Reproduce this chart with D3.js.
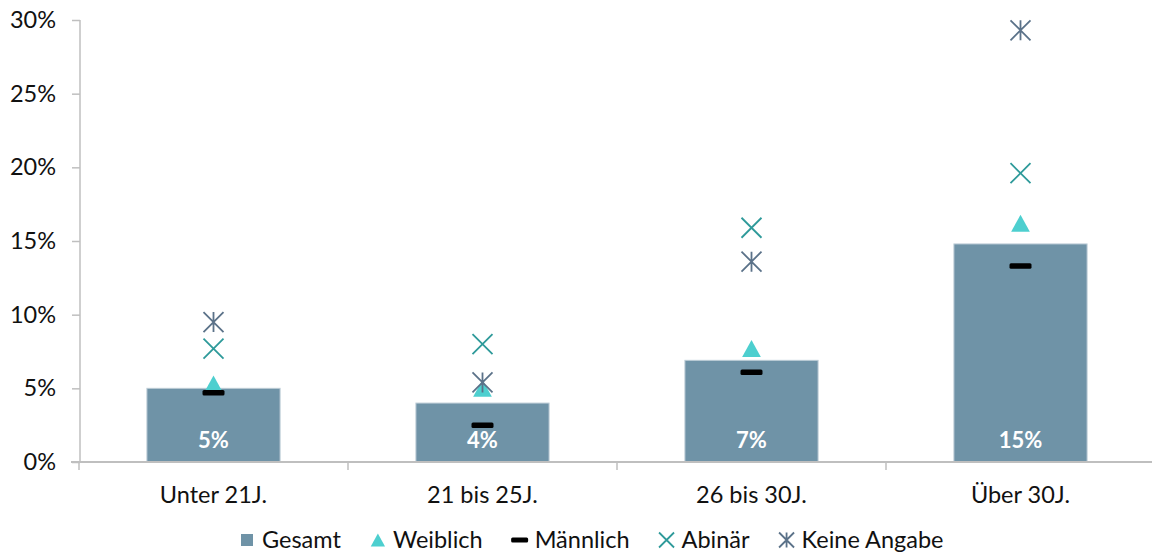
<!DOCTYPE html>
<html><head><meta charset="utf-8">
<script src="https://cdn.jsdelivr.net/npm/d3@7"></script>
<style>
html,body{margin:0;padding:0;background:#fff;}
svg{display:block;font-family:Lato, "Open Sans", sans-serif;}
</style></head>
<body><svg id="c" width="1152" height="554"></svg>
<script>
const categories = ["Unter 21J.", "21 bis 25J.", "26 bis 30J.", "Über 30J."];
const gesamt = [0.050, 0.040, 0.069, 0.148];
const weiblich = [0.053, 0.050, 0.077, 0.162];
const maennlich = [0.047, 0.025, 0.061, 0.133];
const abinaer = [0.077, 0.080, 0.159, 0.196];
const keineAngabe = [0.095, 0.054, 0.136, 0.293];
const yTicks = [0, 0.05, 0.10, 0.15, 0.20, 0.25, 0.30];
const seriesNames = ["Gesamt", "Weiblich", "Männlich", "Abinär", "Keine Angabe"];

const colors = {bar:"#6F93A7", tri:"#4DCFCF", dash:"#000000", x:"#2E9A9A", star:"#5B7289", axis:"#BFBFBF", text:"#111111"};

const svg = d3.select("#c");
const x = d3.scaleBand().domain(categories).range([79, 1155]).paddingInner(0.505).paddingOuter(0.2525);
const xc = d => x(d) + x.bandwidth()/2;
const y = d3.scaleLinear().domain([0, 0.30]).range([462, 20]);

// Y axis
const yAxis = svg.append("g").attr("transform","translate(80,0)")
  .call(d3.axisLeft(y).tickValues(yTicks).tickFormat(d3.format(".0%")).tickSize(8).tickPadding(16));
yAxis.select(".domain").attr("stroke", colors.axis).attr("stroke-width",1.5).attr("d","M0,20V462");
yAxis.selectAll(".tick line").attr("stroke", colors.axis).attr("stroke-width",1.5);
yAxis.selectAll(".tick text").attr("fill", colors.text).style("font-size","23.5px").style("font-family","Lato");

// Bars
svg.append("g").selectAll("rect").data(categories).join("rect")
  .attr("x", d => x(d)).attr("width", x.bandwidth())
  .attr("y", (d,i) => y(gesamt[i])).attr("height", (d,i) => y(0) - y(gesamt[i]))
  .attr("fill", colors.bar).attr("stroke","#BCCCD6").attr("stroke-width",1);

// X axis
const bounds = d3.range(categories.length + 1).map(i => 79 + i * x.step());
svg.append("line").attr("x1",71).attr("x2",1155).attr("y1",y(0)).attr("y2",y(0))
  .attr("stroke", colors.axis).attr("stroke-width",2);
svg.append("g").selectAll("line").data(bounds).join("line")
  .attr("x1", d=>d).attr("x2", d=>d).attr("y1", y(0)).attr("y2", y(0)+8)
  .attr("stroke", colors.axis).attr("stroke-width",1.5);
svg.append("g").selectAll("text").data(categories).join("text")
  .attr("x", d => xc(d)).attr("y", 503).attr("text-anchor","middle")
  .attr("fill", colors.text).style("font-size","23.5px").text(d => d);

// Bar labels
svg.append("g").selectAll("text").data(categories).join("text")
  .attr("x", d => xc(d)).attr("y", y(0) - 22).attr("dy","0.36em").attr("text-anchor","middle")
  .attr("fill","#fff").style("font-size","22px").style("font-weight","bold")
  .text((d,i) => d3.format(".0%")(gesamt[i]));

// Marker shapes
function triPath(s){ return `M0,${-s*0.5}L${s*0.55},${s*0.5}L${-s*0.55},${s*0.5}Z`; }
function xPath(s){ const h=s/2; return `M${-h},${-h}L${h},${h}M${-h},${h}L${h},${-h}`; }
function starPath(s){ const h=s/2; return `M${-h},${-h}L${h},${h}M${-h},${h}L${h},${-h}M0,${-h}L0,${h}`; }

function drawTri(g, s){ g.append("path").attr("d", triPath(s)).attr("fill", colors.tri); }
function drawDash(g, w, h){ g.append("rect").attr("x",-w/2).attr("y",-h/2).attr("width",w).attr("height",h).attr("rx",1.5).attr("fill",colors.dash); }
function drawX(g, s){ g.append("path").attr("d", xPath(s)).attr("stroke", colors.x).attr("stroke-width",1.8).attr("fill","none"); }
function drawStar(g, s){ g.append("path").attr("d", starPath(s)).attr("stroke", colors.star).attr("stroke-width",1.8).attr("fill","none"); }

const gM = svg.append("g");
categories.forEach((c,i) => {
  drawTri(gM.append("g").attr("transform",`translate(${xc(c)},${y(weiblich[i])})`), 17);
});
categories.forEach((c,i) => {
  drawDash(gM.append("g").attr("transform",`translate(${xc(c)},${y(maennlich[i])})`), 22, 5.5);
});
categories.forEach((c,i) => {
  drawX(gM.append("g").attr("transform",`translate(${xc(c)},${y(abinaer[i])})`), 20);
});
categories.forEach((c,i) => {
  drawStar(gM.append("g").attr("transform",`translate(${xc(c)},${y(keineAngabe[i])})`), 20);
});

// Legend
const leg = svg.append("g");
let cx = 247;
const ly = 540;
seriesNames.forEach((name, i) => {
  const g = leg.append("g").attr("transform", `translate(${cx},${ly})`);
  if (i === 0) g.append("rect").attr("x",-6).attr("y",-6).attr("width",12).attr("height",12).attr("fill",colors.bar);
  else if (i === 1) g.append("path").attr("d", triPath(13)).attr("fill", colors.tri);
  else if (i === 2) drawDash(g, 17, 5);
  else if (i === 3) drawX(g, 15);
  else drawStar(g, 15);
  const t = leg.append("text").attr("x", cx + 15).attr("y", ly).attr("dy","0.35em")
    .attr("fill", colors.text).style("font-size","23.5px").text(name);
  const w = t.node().getComputedTextLength();
  cx = cx + 15 + w + 37;
});
</script></body></html>
